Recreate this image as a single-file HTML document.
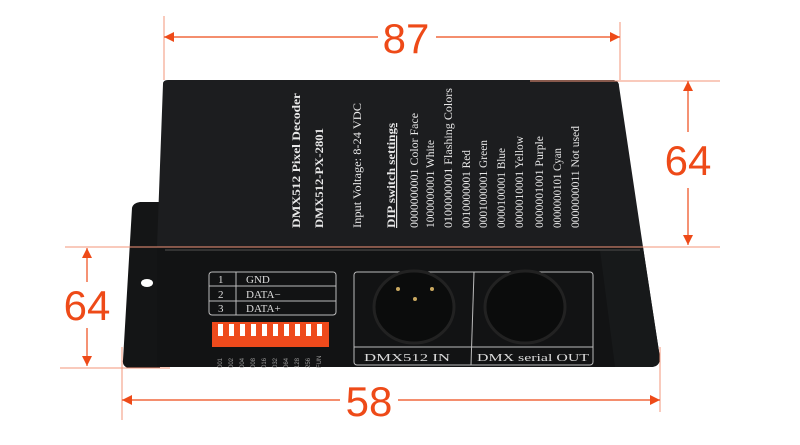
<!DOCTYPE html>
<html><head><meta charset="utf-8"><style>
html,body{margin:0;padding:0;background:#fff;}
svg{display:block}
</style></head><body>
<svg width="800" height="445" viewBox="0 0 800 445" xmlns="http://www.w3.org/2000/svg">
<defs>
<marker id="a" viewBox="0 0 10 10" refX="10" refY="5" markerWidth="10" markerHeight="10" orient="auto-start-reverse" markerUnits="userSpaceOnUse">
<path d="M0,0 L10,5 L0,10 z" fill="#ee4a18"/></marker>
</defs>
<!-- device -->
<path d="M132,208 Q133,203 140,202 L160,202 L160,368 L128,368 Q122,366 123,360 Z" fill="#141516"/>
<path d="M163,84 Q163,80 168,80 L614,80 Q619,81 619,86 L643,247 L157,247 Z" fill="#1c1d1f"/>
<path d="M157,247 L643,247 L660,358 Q660,366 652,367 L157,367 Z" fill="#121314"/>
<path d="M600,250 L643,247 L660,358 Q660,366 652,367 L615,367 Z" fill="#17191a"/>
<line x1="165" y1="250" x2="640" y2="250" stroke="#333" stroke-width="2"/>
<ellipse cx="147" cy="283" rx="6" ry="4" fill="#fff"/>
<!-- top text -->
<g fill="#e8e8e8" font-family="'Liberation Serif',serif" font-size="12" font-weight="bold">
<text transform="translate(300,228) rotate(-90)" textLength="135" lengthAdjust="spacingAndGlyphs">DMX512 Pixel Decoder</text>
<text transform="translate(323,228) rotate(-90)" textLength="100" lengthAdjust="spacingAndGlyphs">DMX512-PX-2801</text>
<text transform="translate(361,228) rotate(-90)" font-weight="normal" textLength="125" lengthAdjust="spacingAndGlyphs">Input Voltage: 8-24 VDC</text>
<text transform="translate(395,228) rotate(-90)" textLength="105" lengthAdjust="spacingAndGlyphs" text-decoration="underline">DIP switch settings</text>
<g font-weight="normal">
<text transform="translate(418,228) rotate(-90)" textLength="115" lengthAdjust="spacingAndGlyphs">0000000001 Color Face</text>
<text transform="translate(434,228) rotate(-90)" textLength="88" lengthAdjust="spacingAndGlyphs">1000000001 White</text>
<text transform="translate(452,228) rotate(-90)" textLength="140" lengthAdjust="spacingAndGlyphs">0100000001 Flashing Colors</text>
<text transform="translate(470,228) rotate(-90)" textLength="78" lengthAdjust="spacingAndGlyphs">0010000001 Red</text>
<text transform="translate(487,228) rotate(-90)" textLength="88" lengthAdjust="spacingAndGlyphs">0001000001 Green</text>
<text transform="translate(505,228) rotate(-90)" textLength="80" lengthAdjust="spacingAndGlyphs">0000100001 Blue</text>
<text transform="translate(523,228) rotate(-90)" textLength="92" lengthAdjust="spacingAndGlyphs">0000010001 Yellow</text>
<text transform="translate(543,228) rotate(-90)" textLength="92" lengthAdjust="spacingAndGlyphs">0000001001 Purple</text>
<text transform="translate(561,228) rotate(-90)" textLength="80" lengthAdjust="spacingAndGlyphs">0000000101 Cyan</text>
<text transform="translate(579,228) rotate(-90)" textLength="102" lengthAdjust="spacingAndGlyphs">0000000011 Not used</text>
</g></g>
<!-- terminal box -->
<g stroke="#bbb" stroke-width="1" fill="none">
<rect x="209" y="272" width="127" height="43" rx="3"/>
<line x1="209" y1="286" x2="336" y2="286"/><line x1="209" y1="301" x2="336" y2="301"/>
<line x1="236" y1="272" x2="236" y2="315"/>
<rect x="354" y="272" width="239" height="93" rx="3"/>
<line x1="474" y1="272" x2="471" y2="365"/>
<line x1="354" y1="347" x2="593" y2="347"/>
</g>
<g fill="#ddd" font-family="'Liberation Serif',serif" font-size="11">
<text x="218" y="283">1</text><text x="218" y="298">2</text><text x="218" y="312">3</text>
<text x="246" y="283">GND</text><text x="246" y="298">DATA−</text><text x="246" y="312">DATA+</text>
<text x="364" y="361" font-size="11" textLength="86" lengthAdjust="spacingAndGlyphs">DMX512  IN</text>
<text x="477" y="361" font-size="11" textLength="112" lengthAdjust="spacingAndGlyphs">DMX serial OUT</text>
</g>
<!-- connectors -->
<ellipse cx="414" cy="307" rx="40" ry="36" fill="#0b0c0c" stroke="#222" stroke-width="3"/>
<ellipse cx="525" cy="307" rx="40" ry="36" fill="#0b0c0c" stroke="#222" stroke-width="3"/>
<circle cx="398" cy="289" r="2" fill="#c9a860"/><circle cx="432" cy="289" r="2" fill="#c9a860"/><circle cx="415" cy="299" r="2" fill="#c9a860"/>
<!-- DIP -->
<rect x="212" y="322" width="117" height="25" fill="#ee4a1c"/>
<g fill="#fff">
<rect x="218" y="324" width="5" height="12"/><rect x="229" y="324" width="5" height="12"/><rect x="240" y="324" width="5" height="12"/><rect x="251" y="324" width="5" height="12"/><rect x="262" y="324" width="5" height="12"/><rect x="273" y="324" width="5" height="12"/><rect x="284" y="324" width="5" height="12"/><rect x="295" y="324" width="5" height="12"/><rect x="306" y="324" width="5" height="12"/><rect x="317" y="324" width="5" height="12"/>
</g>
<g fill="#999" font-family="'Liberation Sans',sans-serif" font-size="6">
<text transform="translate(222,368) rotate(-90)">001</text><text transform="translate(233,368) rotate(-90)">002</text><text transform="translate(244,368) rotate(-90)">004</text><text transform="translate(255,368) rotate(-90)">008</text><text transform="translate(266,368) rotate(-90)">016</text><text transform="translate(277,368) rotate(-90)">032</text><text transform="translate(288,368) rotate(-90)">064</text><text transform="translate(299,368) rotate(-90)">128</text><text transform="translate(310,368) rotate(-90)">256</text><text transform="translate(321,368) rotate(-90)">FUN</text>
</g>
<!-- dimension lines -->
<g stroke="#f3957a" stroke-width="1">
<line x1="164" y1="16" x2="164" y2="80"/>
<line x1="620" y1="22" x2="620" y2="80"/>
<line x1="530" y1="81" x2="720" y2="81"/>
<line x1="65" y1="247" x2="720" y2="247"/>
<line x1="60" y1="368" x2="170" y2="368"/>
<line x1="122" y1="347" x2="122" y2="420"/>
<line x1="660" y1="347" x2="660" y2="412"/>
</g>
<g stroke="#ee4a18" stroke-width="1.2">
<line x1="164" y1="37" x2="378" y2="37" marker-start="url(#a)"/>
<line x1="436" y1="37" x2="620" y2="37" marker-end="url(#a)"/>
<line x1="688" y1="81" x2="688" y2="132" marker-start="url(#a)"/>
<line x1="688" y1="188" x2="688" y2="245" marker-end="url(#a)"/>
<line x1="87" y1="248" x2="87" y2="282" marker-start="url(#a)"/>
<line x1="87" y1="328" x2="87" y2="366" marker-end="url(#a)"/>
<line x1="122" y1="400" x2="340" y2="400" marker-start="url(#a)"/>
<line x1="398" y1="400" x2="660" y2="400" marker-end="url(#a)"/>
</g>
<g fill="#ee4a18" font-family="'Liberation Sans',sans-serif" font-size="42" text-anchor="middle">
<text x="406" y="53">87</text>
<text x="688" y="175">64</text>
<text x="87" y="320">64</text>
<text x="369" y="416">58</text>
</g>
</svg>
</body></html>
